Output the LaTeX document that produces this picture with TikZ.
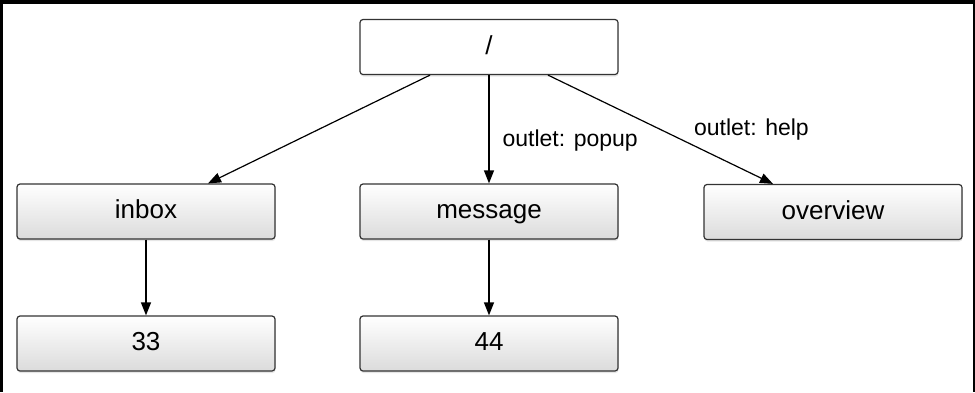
\documentclass[tikz,border=0pt]{standalone}
\usepackage{fontspec}
\setmainfont{Liberation Sans}
\usetikzlibrary{arrows.meta,shadows}

\tikzset{
	    box/.style={
					rectangle,
					rounded corners=3pt,
					draw=black!80,
					line width=1.2pt,
					minimum width=258pt,
					minimum height=55pt,
					inner sep=0pt,
					text height=19pt,
					text depth=5pt,
					font=\fontsize{26}{30}\selectfont,
					top color=white,
					bottom color=black!14,
					drop shadow={shadow xshift=0.5pt, shadow yshift=-2pt, opacity=0.2}
	    },
	    link/.style={black, line width=1.2pt, -{Triangle[length=13pt,width=10pt]}},
	    tag/.style={font=\fontsize{23}{27}\selectfont, inner sep=0pt}
		}

\begin{document}
\begin{tikzpicture}[x=1pt,y=-1pt]
			\useasboundingbox (0,0) rectangle (975,392);

			% frame
			\draw[line width=4pt] (0,2) to (975,2);
			\draw[line width=3pt] (1.5,0) to (1.5,392);
			\draw[line width=2pt] (974,0) to (974,392);

			\node[box, top color=white, bottom color=white] (root) at (489,47) {/};

			\node[box] (inbox) at (146,211.5) {inbox};
			\node[box] (message) at (489,211.5) {message};
			\node[box] (overview) at (833,212) {overview};

			\node[box] (n33) at (146,343.5) {33};
			\node[box] (n44) at (489,343.5) {44};

			\draw[link] ([xshift=-59pt]root.south) to ([xshift=62pt]inbox.north);
			\draw[link] (root.south) to node[tag, pos=0.6, right=13pt] {outlet: popup} (message.north);
			\draw[link] ([xshift=59pt]root.south) to node[tag, pos=0.62, anchor=south west, xshift=6pt, yshift=2pt] {outlet: help} ([xshift=-60pt]overview.north);

			\draw[link] (inbox.south) to (n33.north);
			\draw[link] (message.south) to (n44.north);
		\end{tikzpicture}
\end{document}
